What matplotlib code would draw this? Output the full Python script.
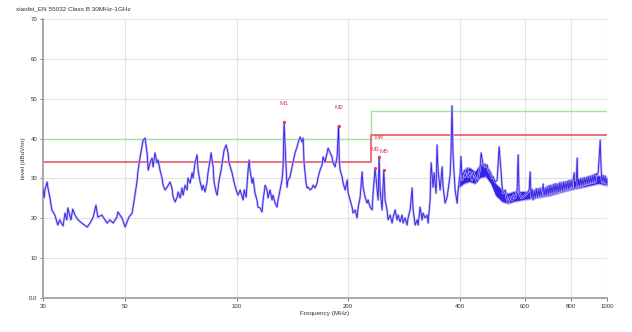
import matplotlib
matplotlib.use("Agg")
import matplotlib.pyplot as plt
from matplotlib.ticker import FixedLocator, NullLocator

plt.rcParams["font.family"] = ["Liberation Sans", "DejaVu Sans"]

title = "xiaofei_EN 55032 Class B 30MHz-1GHz"

# measured trace: frequency (MHz) / level (dBuV/m)
freq_mhz = [
    30.0, 30.2, 30.4, 30.8, 30.9, 31.3, 31.7, 32.3, 32.9, 33.3, 33.7, 34.0, 34.4, 34.8, 35.0,
    35.7, 36.1, 36.6, 37.3, 38.2, 39.5, 40.2, 41.0, 41.7, 42.2, 43.3, 44.1, 44.7, 45.5, 46.4,
    47.5, 47.8, 49.0, 50.0, 50.6, 51.2, 52.2, 52.8, 53.8, 54.2, 54.9, 55.5, 55.9, 56.6, 57.3,
    57.7, 58.4,
    59.1, 59.5, 60.2, 61.0, 61.4, 62.1, 62.9, 63.3, 64.1, 64.9, 66.1, 66.9, 67.4, 68.2, 69.1,
    69.5, 70.4, 71.2, 71.7, 72.6, 73.5, 73.9, 74.9, 75.8, 76.3, 77.2, 78.2, 78.7, 79.7, 80.7,
    81.2, 82.2, 83.2, 83.7, 84.8, 85.3, 86.4, 86.9, 88.0, 88.6, 89.7, 90.8, 91.9, 92.5, 93.7,
    94.8, 95.4, 97.2, 98.4, 99.7, 100.9, 102.2, 104.1, 104.8, 106.1, 107.4, 108.1, 108.7,
    110.1, 110.8, 112.1, 113.5, 114.2, 115.7, 117.1, 117.9, 119.4, 120.8, 121.6, 123.1, 124.6,
    125.4, 127.0, 128.6, 129.4, 131.0, 132.6, 133.5, 134.3, 136.0, 136.8, 137.7, 139.4, 141.1,
    142.0, 143.8, 145.6, 146.5, 148.4, 150.3, 151.2, 152.1, 154.0, 155.0, 156.0, 157.9, 159.9,
    160.9, 162.9, 164.9, 166.0, 168.0, 170.1, 171.2, 173.3, 175.5, 176.6, 178.8, 181.0, 182.2,
    184.4, 186.8, 188.5, 189.3, 190.3, 192.7, 193.9, 196.4, 198.9, 200.1, 202.5,
    205.0, 206.3, 208.9, 211.5, 212.8, 215.5, 218.2, 219.5, 222.3, 225.1, 226.5, 229.3, 232.2,
    233.6, 236.5, 239.5, 241.0, 242.5, 244.0, 247.0, 249.7, 251.7, 254.8, 256.4, 259.7, 262.9,
    264.6, 267.9, 271.2, 272.9, 276.3, 279.7, 281.5, 285.0, 288.6, 290.4, 294.1, 297.8, 299.6,
    303.4, 307.2, 309.1, 312.9, 316.8, 318.8, 322.8, 326.8, 328.9, 333.0,
    335.1, 339.2, 341.3, 345.6, 347.7, 349.9, 354.4, 358.8, 361.0, 365.6, 370.1, 372.4, 377.1,
    379.4, 381.5, 384.2, 389.0, 393.9, 396.4, 401.3, 403.5, 406.3, 408.8, 413.9, 419.1, 421.7,
    427.1, 432.4, 435.1, 440.6, 446.1, 448.9, 454.5, 457.3, 463.0, 468.9, 474.7, 477.7, 483.7,
    489.7, 492.8, 499.0, 505.2, 508.4, 511.5, 517.9, 521.1, 524.4, 531.0, 537.6, 541.0, 547.7,
    554.5, 558.0, 565.0, 572.0, 575.6, 579.2, 586.5, 593.8, 601.3, 608.8, 616.4,
    620.3, 624.0, 628.0, 632.0, 636.0, 640.0, 644.0, 648.0, 652.0, 656.0, 660.0, 664.0, 668.4,
    672.5, 676.0, 681.0, 685.0, 689.0, 693.7, 698.0, 702.0, 706.0, 711.0, 716.0, 720.0, 724.7,
    729.0, 733.0, 738.0, 743.0, 747.0, 752.0, 757.0, 762.0, 766.0, 771.0, 776.0, 781.0, 786.0,
    790.0, 795.0, 800.0, 805.5, 810.0, 815.6, 818.0, 820.7, 825.0, 830.9, 834.0, 838.0, 842.0,
    847.0, 852.0, 857.0, 862.0, 868.0, 873.0, 879.0, 884.0, 890.0, 895.0, 901.0, 907.0, 912.0,
    918.0, 924.0, 929.0, 935.0, 941.0, 947.0, 952.9, 958.8, 964.8, 970.0, 976.8, 983.0, 989.0,
    995.0, 1000.0,
]
level_dbuv = [
    27.6, 25.1, 27.4, 29.1, 27.9, 25.3, 22.1, 20.8, 18.3, 19.6, 18.6, 18.1, 21.3, 19.6, 22.6,
    19.6, 22.3, 20.8, 19.6, 18.8, 17.8, 18.8, 20.3, 23.3, 20.3, 20.8, 19.6, 18.8, 19.6, 18.8,
    20.3, 21.6, 20.1, 17.8, 19.1, 20.3, 21.3, 24.1, 29.1, 32.1, 35.4, 37.9, 39.6, 40.1, 36.4,
    32.1, 33.9,
    35.1, 32.9, 36.4, 33.9, 34.6, 32.1, 30.1, 28.3, 27.1, 27.8, 29.1, 27.6, 25.3, 24.1, 25.3,
    26.6, 25.1, 27.6, 25.8, 28.3, 27.1, 30.1, 28.8, 31.4, 30.1, 33.9, 35.9, 32.1, 29.1, 27.1,
    28.3, 26.6, 29.1, 31.4, 34.6, 36.4, 32.9, 29.1, 26.6, 25.8, 29.6, 32.1, 35.4, 37.1, 38.4,
    36.4, 33.9, 31.4, 29.1, 27.1, 25.8, 27.1, 24.6, 27.1, 25.3, 32.1, 34.6, 32.1,
    28.8, 30.1, 26.3, 24.6, 22.8, 22.6, 21.6, 24.6, 28.3, 27.1, 25.1, 27.1, 24.6,
    25.8, 23.8, 22.8, 24.6, 27.1, 29.6, 32.9, 44.2, 32.9, 27.8, 29.6, 30.4, 32.9,
    34.1, 36.4, 37.9, 38.9, 40.4, 39.1, 40.1, 33.9, 28.8, 27.6, 27.8, 27.1, 27.6,
    28.3, 27.6, 28.8, 30.4, 32.1, 33.4, 35.4, 34.1, 36.4, 37.6, 36.4, 35.4, 33.9,
    32.9, 35.4, 43.2, 34.6, 32.1, 30.4, 28.8, 27.1, 29.6, 26.3, 24.6,
    22.8, 21.3, 22.1, 20.1, 22.6, 25.3, 31.6, 27.8, 25.3, 23.8, 24.6, 22.8, 22.1,
    26.3, 32.5, 27.1, 24.6, 35.5, 27.1, 22.1, 32.1, 24.6, 22.1, 19.6, 20.8, 18.8,
    20.3, 22.1, 19.6, 20.8, 19.1, 20.8, 18.8, 20.1, 18.3, 20.1, 22.1, 27.6, 22.1,
    18.3, 19.6, 18.3, 22.8, 19.6, 21.3, 20.1, 20.8, 18.8, 24.6,
    33.9, 27.8, 31.4, 26.3, 38.4, 32.1, 27.1, 32.9, 27.8, 23.8, 25.3, 27.1, 30.9,
    37.1, 48.2, 35.4, 27.1, 23.8, 27.1, 31.4, 35.5, 29.6, 31.6, 30.4, 32.6, 30.4,
    31.6, 29.6, 31.4, 30.4, 29.1, 30.1, 32.9, 36.4, 33.4, 32.9, 33.4, 32.1, 31.4,
    30.1, 30.4, 29.1, 29.6, 33.9, 37.9, 31.4, 27.8, 26.3, 27.1, 24.6, 23.8, 25.3,
    24.6, 25.8, 25.1, 27.1, 35.9, 26.3, 25.1, 25.3, 25.8, 26.3, 27.1,
    31.6, 25.0, 27.3, 24.6, 27.0, 25.0, 27.5, 25.2, 27.4, 25.3, 27.6, 25.5, 27.0,
    28.6, 25.6, 27.6, 25.6, 28.0, 25.8, 28.2, 26.0, 28.3, 26.1, 28.5, 26.3, 28.7,
    26.4, 28.6, 26.5, 28.9, 26.6, 29.0, 26.8, 29.1, 27.0, 29.2, 27.1, 29.3, 27.2,
    29.5, 27.4, 29.6, 27.6, 29.5, 31.4, 27.6, 29.2, 27.8, 35.1, 28.0, 29.8, 27.9,
    30.0, 28.1, 30.1, 28.2, 30.2, 28.4, 30.3, 28.5, 30.5, 28.6, 30.6, 28.8, 30.8,
    28.9, 31.0, 29.0, 31.2, 30.9, 31.5, 35.4, 39.6, 32.1, 29.0, 30.8, 28.9, 30.6,
    28.4, 30.0,
]

# noise-floor envelope above 400 MHz (min / max of the sweep)
floor_freq = [398, 410, 425, 440, 455, 470, 485, 500, 520, 540,
              560, 600, 650, 700, 750, 800, 850, 900, 950, 1000]
floor_low = [27.5, 28.5, 29.0, 28.5, 30.0, 30.3, 28.5, 25.5, 24.0, 23.5,
             24.0, 24.5, 25.0, 25.5, 26.3, 27.0, 27.5, 28.0, 28.5, 28.0]
floor_high = [31.0, 32.5, 33.0, 32.0, 34.0, 34.0, 32.0, 29.0, 27.5, 26.5,
              27.0, 27.0, 27.5, 28.0, 28.8, 29.5, 30.0, 30.5, 31.0, 30.5]

# limit and margin lines (step at 230 MHz)
limit_freq = [30, 230, 230, 1000]
limit_level = [40, 40, 47, 47]
margin_level = [34, 34, 41, 41]

# peak markers
marker_names = ["M1", "M2", "M3", "M4", "M5"]
marker_freq = [134.3, 188.5, 236.5, 242.5, 249.7]
marker_level = [44.2, 43.2, 32.5, 35.5, 32.1]

x_ticks = [30, 50, 100, 200, 400, 600, 800, 1000]
x_tick_labels = ["30", "50", "100", "200", "400", "600", "800", "1000"]
y_ticks = [0, 10, 20, 30, 40, 50, 60, 70]
y_tick_labels = ["0.0", "10", "20", "30", "40", "50", "60", "70"]

fig = plt.figure(figsize=(6.32, 3.32), dpi=100)
ax = fig.add_axes([0.068, 0.1024, 0.8924, 0.8404])

ax.plot(limit_freq, limit_level, color="#9fe39f", lw=1.0, zorder=2)
ax.plot(limit_freq, margin_level, color="#e8707e", lw=1.4, zorder=2)

ax.fill_between(floor_freq, floor_low, floor_high, color="#b3aaf5", lw=0, zorder=3)
ax.fill_between(floor_freq, [v + 0.3 for v in floor_low], [v - 0.3 for v in floor_high],
                color="#3424ea", lw=0, zorder=3)
ax.plot(freq_mhz, level_dbuv, color="#b6adf5", lw=1.6, zorder=3, solid_joinstyle="round")
ax.plot(freq_mhz, level_dbuv, color="#3020e4", lw=0.6, zorder=4)

ax.scatter(marker_freq, marker_level, s=5, color="#e83a48", zorder=5, linewidths=0)
for name, f, lv in zip(marker_names, marker_freq, marker_level):
    ax.annotate(name, (f, lv), xytext=(0, 13.5), textcoords="offset points",
                ha="center", va="center", fontsize=4.6, color="#e83a48", zorder=6)

ax.set_xscale("log")
ax.set_xlim(30, 1000)
ax.set_ylim(0, 70)
ax.xaxis.set_major_locator(FixedLocator(x_ticks))
ax.xaxis.set_minor_locator(NullLocator())
ax.set_xticklabels(x_tick_labels)
ax.set_yticks(y_ticks)
ax.set_yticklabels(y_tick_labels)

ax.grid(True, color="#e2e2e2", lw=0.8)
ax.set_axisbelow(True)
for side in ("top", "right"):
    ax.spines[side].set_visible(False)
for side in ("left", "bottom"):
    ax.spines[side].set_color("#a8a8a8")
    ax.spines[side].set_linewidth(1.4)
ax.tick_params(axis="both", labelsize=4.3, length=2.5, width=0.6, color="#606060",
               pad=1.5, labelcolor="#333333")

ax.set_xlabel("Frequency (MHz)", fontsize=4.6, labelpad=2, color="#333333")
ax.set_ylabel("level (dBuV/m)", fontsize=4.6, labelpad=2, color="#333333")
fig.text(16 / 632, 1 - 9 / 332, title, fontsize=4.6, ha="left", va="center", color="#333333")

fig.savefig("out.png", dpi=100)
